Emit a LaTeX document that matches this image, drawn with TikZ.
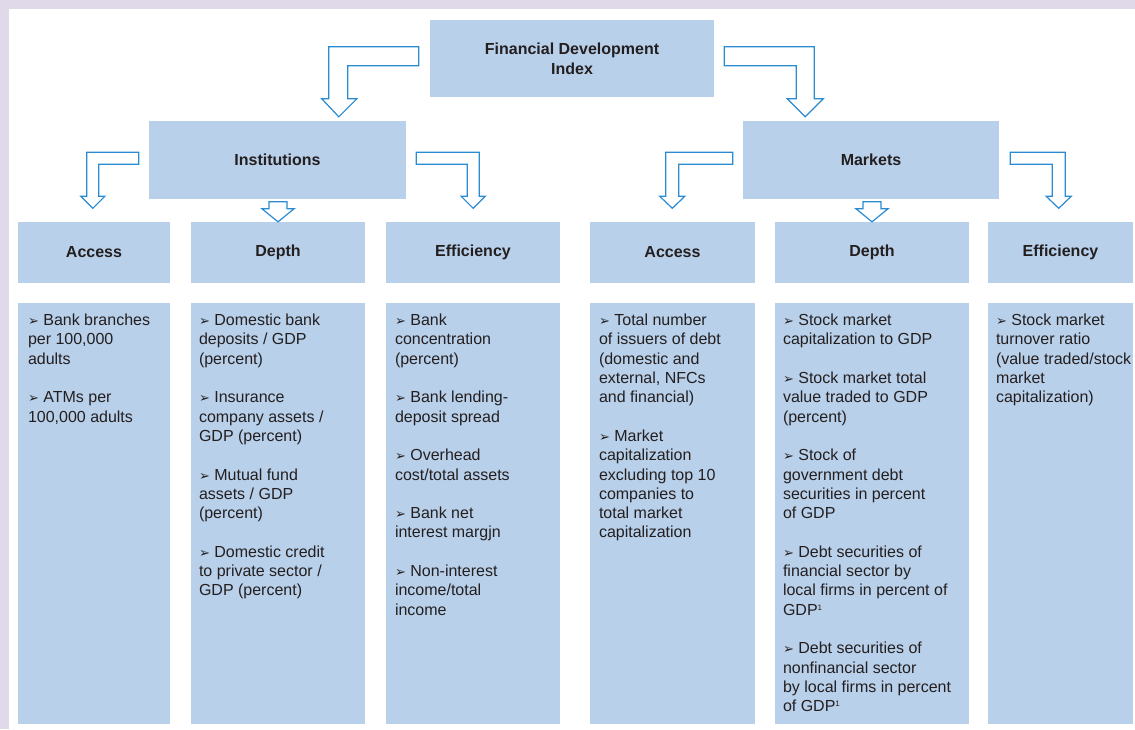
\documentclass[tikz,border=0pt]{standalone}
\usepackage{fontspec}
\setmainfont{Liberation Sans}
\newfontfamily\dingfont{DejaVu Sans}
\usetikzlibrary{calc}

\definecolor{boxblue}{HTML}{B9D0EA}
\definecolor{arrowblue}{HTML}{2A8BD2}
\definecolor{framelilac}{HTML}{DFD9EA}
\definecolor{inkgray}{HTML}{231F20}

\newcommand{\bul}{{\dingfont\fontsize{13}{13}\selectfont ➢}\ }
\newcommand{\sk}{\\[19.3pt]}
\newcommand{\fn}{\raisebox{5pt}{\fontsize{8}{8}\selectfont 1}}

\begin{document}
\begin{tikzpicture}[x=1pt,y=-1pt,
    box/.style={fill=boxblue,inner sep=0pt,text=inkgray,align=center,
      font=\fontsize{16}{20}\selectfont\bfseries},
    list/.style={anchor=north west,inner sep=0pt,text=inkgray,align=left,
      font=\fontsize{16}{19.3}\selectfont},
    blockarrow/.style={draw=arrowblue,fill=white,line width=1.2pt,line join=miter}]
\useasboundingbox (0,0) rectangle (1135,729);
\fill[framelilac] (0,0) rectangle (1135,8.5);
\fill[framelilac] (0,0) rectangle (8.5,729);

% top two levels
\node[box,minimum width=284pt,minimum height=77pt] (fdi) at (572,58.5) {Financial Development\\Index};
\node[box,minimum width=257pt,minimum height=78pt] (inst) at (277.5,159.5) {Institutions};
\node[box,minimum width=256pt,minimum height=78pt] (mkt) at (871,159.5) {Markets};

% headers and the tall boxes under them
\foreach \n/\x/\w/\t in {ia/94/152/Access,id/278/174/Depth,ie/473/174/Efficiency,
    ma/672.5/165/Access,md/872/194/Depth,me/1060.5/145/Efficiency} {
  \node[box,minimum width=\w pt,minimum height=61pt] (\n) at (\x,252.5) {\t};
  \node[box,minimum width=\w pt,minimum height=421pt] (\n-b) at (\x,513.5) {};
}

\node[list] (ia-t) at ($(ia-b.north west)+(10,11)$) {\bul Bank branches\\per 100,000\\adults\sk
  \bul ATMs per\\100,000 adults};
\node[list] (id-t) at ($(id-b.north west)+(8,11)$) {\bul Domestic bank\\deposits / GDP\\(percent)\sk
  \bul Insurance\\company assets /\\GDP (percent)\sk
  \bul Mutual fund\\assets / GDP\\(percent)\sk
  \bul Domestic credit\\to private sector /\\GDP (percent)};
\node[list] (ie-t) at ($(ie-b.north west)+(9,11)$) {\bul Bank\\concentration\\(percent)\sk
  \bul Bank lending-\\deposit spread\sk
  \bul Overhead\\cost/total assets\sk
  \bul Bank net\\interest margjn\sk
  \bul Non-interest\\income/total\\income};
\node[list] (ma-t) at ($(ma-b.north west)+(9,11)$) {\bul Total number\\of issuers of debt\\(domestic and\\external, NFCs\\and financial)\sk
  \bul Market\\capitalization\\excluding top 10\\companies to\\total market\\capitalization};
\node[list] (md-t) at ($(md-b.north west)+(8,11)$) {\bul Stock market\\capitalization to GDP\sk
  \bul Stock market total\\value traded to GDP\\(percent)\sk
  \bul Stock of\\government debt\\securities in percent\\of GDP\sk
  \bul Debt securities of\\financial sector by\\local firms in percent of\\GDP\fn\sk
  \bul Debt securities of\\nonfinancial sector\\by local firms in percent\\of GDP\fn};
\node[list] (me-t) at ($(me-b.north west)+(8,11)$) {\bul Stock market\\turnover ratio\\(value traded/stock\\market\\capitalization)};

% hollow arrows
\draw[blockarrow] ($(fdi.north west)+(-11,27)$) -- ++(-90,0) -- ++(0,52) -- ++(-7,0)
  -- ++(17,18) -- ++(18,-18) -- ++(-9,0) -- ++(0,-33) -- ++(71,0) -- cycle;
\draw[blockarrow] ($(fdi.north east)+(10,27)$) -- ++(90,0) -- ++(0,52) -- ++(9,0)
  -- ++(-18,18) -- ++(-18,-18) -- ++(9,0) -- ++(0,-33) -- ++(-72,0) -- cycle;

\draw[blockarrow] ($(inst.north west)+(-10,32)$) -- ++(-52,0) -- ++(0,44) -- ++(-6,0)
  -- ++(12,12) -- ++(12,-12) -- ++(-6,0) -- ++(0,-32) -- ++(40,0) -- cycle;
\draw[blockarrow] ($(id.north)+(-9,-20)$) -- ++(18,0) -- ++(0,7) -- ++(7,0)
  -- ++(-16,13) -- ++(-16,-13) -- ++(7,0) -- cycle;
\draw[blockarrow] ($(inst.north east)+(10,32)$) -- ++(63,0) -- ++(0,44) -- ++(6,0)
  -- ++(-12,12) -- ++(-12,-12) -- ++(6,0) -- ++(0,-32) -- ++(-51,0) -- cycle;

\draw[blockarrow] ($(mkt.north west)+(-10,32)$) -- ++(-67,0) -- ++(0,44) -- ++(-6,0)
  -- ++(12.5,12) -- ++(12.5,-12) -- ++(-6,0) -- ++(0,-32) -- ++(54,0) -- cycle;
\draw[blockarrow] ($(md.north)+(-9,-20)$) -- ++(18,0) -- ++(0,7) -- ++(7,0)
  -- ++(-16,13) -- ++(-16,-13) -- ++(7,0) -- cycle;
\draw[blockarrow] ($(mkt.north east)+(11,32)$) -- ++(55,0) -- ++(0,44) -- ++(6,0)
  -- ++(-12.5,12) -- ++(-12.5,-12) -- ++(6,0) -- ++(0,-32) -- ++(-42,0) -- cycle;
\end{tikzpicture}
\end{document}
